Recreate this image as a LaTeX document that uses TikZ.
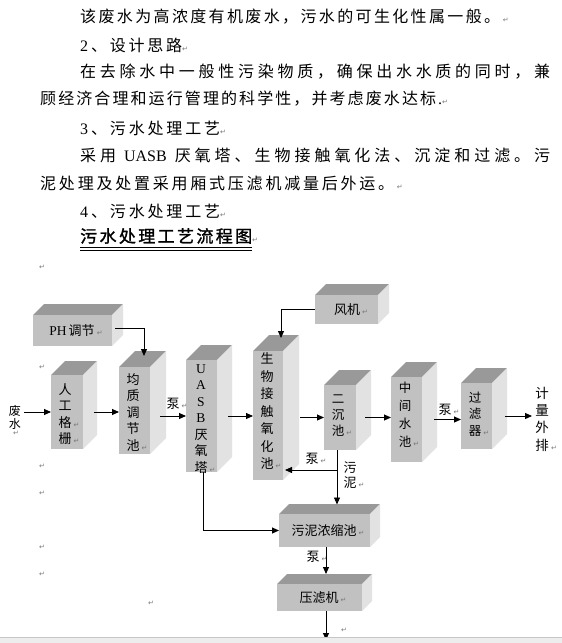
\documentclass[tikz,border=0pt]{standalone}
\usepackage{fontspec}
\setmainfont{Noto Sans CJK SC}
\newfontfamily\lat{Liberation Serif}
\newfontfamily\symf{DejaVu Sans}
\newfontfamily\titlefont[FakeBold=1.5]{Noto Sans CJK SC}
\usetikzlibrary{arrows.meta,fit}
\definecolor{topc}{RGB}{153,153,153}
\definecolor{frontc}{RGB}{193,193,193}
\definecolor{sidec}{RGB}{226,226,226}
\definecolor{retc}{RGB}{120,120,120}
\makeatletter
\def\sp@end{\sp@end@}
\def\spreadtext#1#2{\makebox[#1][s]{\sp@a#2\sp@end}}
\def\sp@a#1{{#1}\futurelet\sp@next\sp@b}
\def\sp@b{\ifx\sp@next\sp@end\expandafter\@gobble\else\hfil\expandafter\sp@a\fi}
\makeatother
\newcommand\ret{{\symf\fontsize{7}{7}\selectfont\textcolor{retc}{↵}}}
\newcommand\rr{\rlap{\,\ret}}
\newcommand\tdbox[6]{%
  \fill[topc] (#2,#3) -- (#2+#6,#3-#6) -- (#4+#6,#3-#6) -- (#4,#3) -- cycle;
  \fill[sidec] (#4,#3) -- (#4+#6,#3-#6) -- (#4+#6,#5-#6) -- (#4,#5) -- cycle;
  \node[face, fit={(#2,#3) (#4,#5)}] (#1) {};
}
\begin{document}
\begin{tikzpicture}[x=1pt,y=-1pt,
  arr/.style={draw=black, line width=0.9pt, -{Triangle[length=7pt,width=6pt]}},
  ln/.style={draw=black, line width=0.9pt},
  face/.style={inner sep=0pt, outer sep=0pt, draw=none, fill=frontc},
  vtext/.style={inner sep=0pt, align=center, font={\fontsize{13}{16.5}\selectfont}},
  htext/.style={inner sep=0pt, font={\fontsize{13}{14}\selectfont}},
  body/.style={inner sep=0pt, anchor=west, font={\fontsize{16}{16}\selectfont}},
  retm/.style={inner sep=0pt, font={\symf\fontsize{7}{7}\selectfont}, text=retc},
]
\useasboundingbox (0,0) rectangle (562,643);

% ---- body text ----
\node[body] (l1) at (80,17) {\spreadtext{420pt}{该废水为高浓度有机废水，污水的可生化性属一般。}\,\ret};
\node[body] (l2) at (80,45) {\spreadtext{102pt}{{\lat 2}、设计思路}\ret};
\node[body] (l3) at (80,72) {\spreadtext{470pt}{在去除水中一般性污染物质，确保出水水质的同时，兼}};
\node[body] (l4) at (40,99) {\spreadtext{402pt}{顾经济合理和运行管理的科学性，并考虑废水达标{\lat .}}\ret};
\node[body] (l5) at (80,128) {\spreadtext{140pt}{{\lat 3}、污水处理工艺}\ret};
\node[body] (l6) at (80,155) {\spreadtext{470pt}{采用{\lat\ UASB\ }厌氧塔、生物接触氧化法、沉淀和过滤。污}};
\node[body] (l7) at (40,183) {\spreadtext{354pt}{泥处理及处置采用厢式压滤机减量后外运。}\,\ret};
\node[body] (l8) at (80,211) {\spreadtext{140pt}{{\lat 4}、污水处理工艺}\ret};
\node[body, font={\titlefont\fontsize{17}{17}\selectfont}] (l9) at (80,236) {\spreadtext{172pt}{污水处理工艺流程图}\ret};
\draw[line width=1.3pt] (l9.south west |- 0,247.5) -- (252,247.5);
\draw[line width=0.6pt] (l9.south west |- 0,250.5) -- (252,250.5);

% ---- paragraph marks on the left ----
\node[retm] (r1) at (42,267) {↵};
\node[retm] (r2) at (42,367) {↵};
\node[retm] (r3) at (42,466) {↵};
\node[retm] (r4) at (42,493) {↵};
\node[retm] (r5) at (42,547) {↵};
\node[retm] (r6) at (42,574) {↵};
\node[retm] (r7) at (151,603) {↵};
\node[retm] (r8) at (344,630) {↵};

% ---- boxes ----
\tdbox{ph}{33}{315}{112}{346}{11}
\tdbox{rg}{51}{375}{83}{449}{14}
\tdbox{jz}{119}{367}{150}{454}{16}
\tdbox{ua}{186}{360}{217}{472}{15}
\tdbox{sw}{253}{351}{283}{480}{16}
\tdbox{fj}{315}{295}{378}{324}{11}
\tdbox{ec}{324}{385}{356}{450}{15}
\tdbox{zj}{391}{377}{422}{462}{15}
\tdbox{gl}{461}{383}{492}{449}{15}
\tdbox{nd}{279}{514}{370}{547}{10}
\tdbox{yl}{277}{584}{362}{611}{10}

% ---- box texts ----
\node[htext] (tph) at (72,331) {{\lat\fontsize{13.5}{14}\selectfont PH}\,调节\rr};
\node[htext] (tfj) at (347,310) {风机\rr};
\node[htext] (tnd) at (324,531) {污泥浓缩池\rr};
\node[htext] (tyl) at (319,598) {压滤机\rr};
\node[vtext] (trg) at (65,414) {人\\工\\格\rr\\栅\rr};
\node[vtext] (tjz) at (133,412) {均\\质\\调\\节\\池\rr};
\node[vtext] (tua) at (201,419) {{\lat\fontsize{13.5}{16.5}\selectfont U}\\{\lat\fontsize{13.5}{16.5}\selectfont A}\\{\lat\fontsize{13.5}{16.5}\selectfont S}\\{\lat\fontsize{13.5}{16.5}\selectfont B}\\厌\\氧\\塔\rr};
\node[vtext, font={\fontsize{13}{17.5}\selectfont}] (tsw) at (267,411) {生\\物\\接\\触\\氧\\化\\池\rr};
\node[vtext, font={\fontsize{12.5}{16}\selectfont}] (tec) at (338,416) {二\\沉\\池\rr};
\node[vtext, font={\fontsize{12.5}{18}\selectfont}] (tzj) at (405,415) {中\\间\\水\\池\rr};
\node[vtext, font={\fontsize{12.5}{16.5}\selectfont}] (tgl) at (475,414) {过\\滤\\器\rr};
\node[vtext, font={\fontsize{13.5}{17.3}\selectfont}] (tjl) at (542,419) {计\\量\\外\\排\rr};
\node[vtext, font={\fontsize{12}{13}\selectfont}] (tfs) at (15,417) {废\\水};
\node[retm] (rfs) at (16,433) {↵};

% ---- labels ----
\node[htext] (b1) at (173,404) {泵\rr};
\node[htext] (b2) at (312,459) {泵\rr};
\node[htext] (b3) at (445,410) {泵\rr};
\node[htext] (b4) at (313,557) {泵\rr};
\node[vtext, font={\fontsize{13}{15}\selectfont}] (wn) at (350,475) {污\\泥\rr};

% ---- connectors ----
\draw[arr] ([xshift=3pt]tfs.east |- rg.west) -- (rg.west);
\draw[arr] ([xshift=11pt]rg.east) -- (rg.east -| jz.west);
\draw[arr] ([xshift=10pt]jz.east |- ua.west) -- (ua.west);
\draw[arr] ([xshift=11pt]ua.east) -- (ua.east -| sw.west);
\draw[arr] ([xshift=17pt]sw.east |- ec.west) -- (ec.west);
\draw[arr] ([xshift=9pt]ec.east) -- (ec.east -| zj.west);
\draw[arr] ([xshift=12pt]zj.east) -- (zj.east -| gl.west);
\draw[arr] ([xshift=13pt]gl.east) -- ([xshift=-3pt]gl.east -| tjl.west);
\draw[arr] ([xshift=3pt,yshift=2pt]ph.east) -| ([xshift=9.5pt,yshift=11pt]jz.north);
\draw[arr] (fj.west) -| ([xshift=13pt,yshift=13pt]sw.north);
\coordinate (s1) at ([xshift=-3pt]ec.south);
\coordinate (ndtop) at ([yshift=9.5pt]nd.north);
\coordinate (rp) at ([xshift=2pt,yshift=-54.5pt]sw.east);
\draw[arr] (s1) -- (s1 |- ndtop);
\draw[arr] (s1 |- rp) -- (rp);
\draw[arr] ([xshift=1.5pt]ua.south) |- (nd.west);
\coordinate (yltop) at ([xshift=6.5pt,yshift=10pt]yl.north);
\draw[arr] (nd.south -| yltop) -- (yltop);
\coordinate (out) at (326,640);
\draw[arr] (yltop |- yl.south) -- (out);

% ---- bottom bar ----
\fill[gray!14] (0,637.5) rectangle (562,643);
\draw[gray!45, line width=0.6pt] (0,637.5) -- (562,637.5);
\end{tikzpicture}
\end{document}
